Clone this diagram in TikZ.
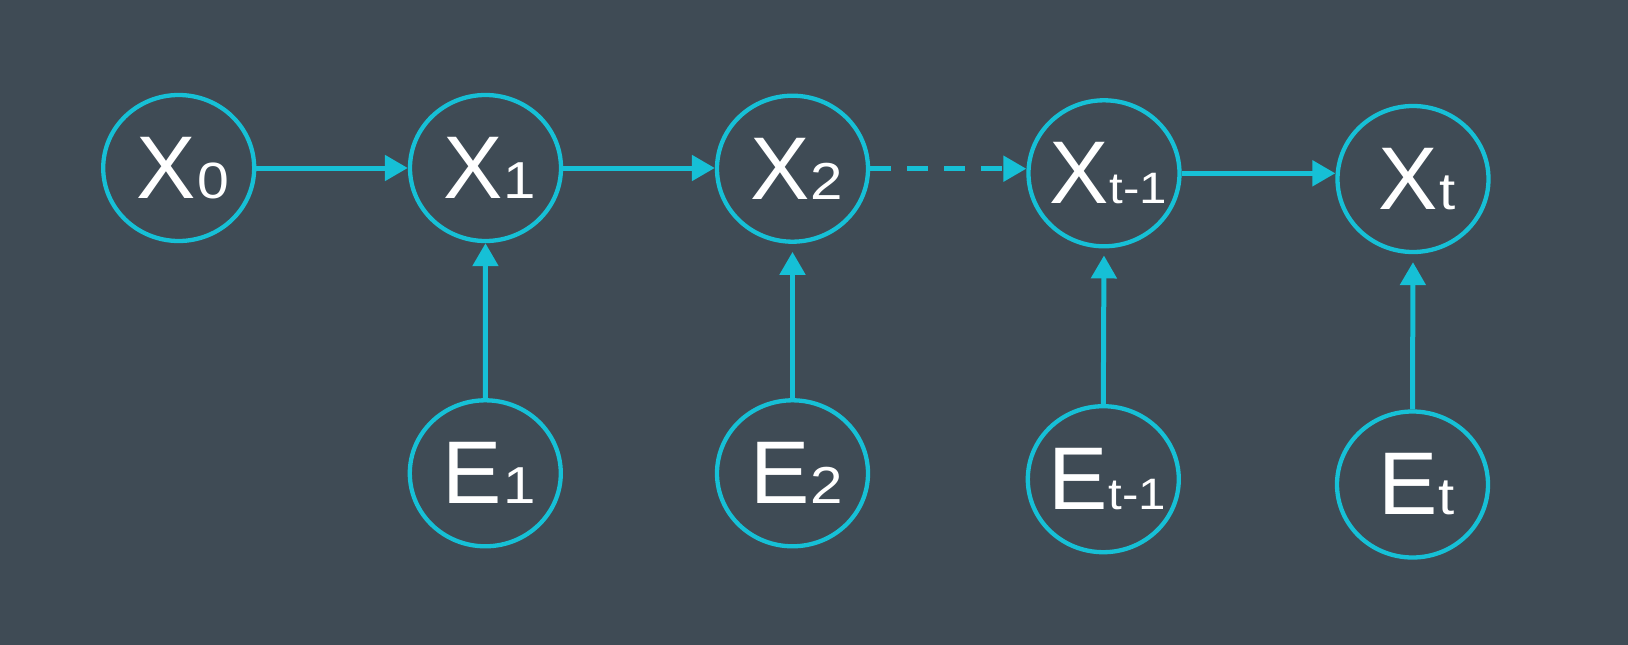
\documentclass[tikz,border=0pt]{standalone}
\usepackage{fontspec}
\setmainfont{Liberation Sans}
\usetikzlibrary{shapes.geometric,arrows.meta}
\definecolor{bgc}{RGB}{63,75,85}
\definecolor{cy}{RGB}{22,192,214}
\newcommand{\mylbl}[3]{\makebox[0pt]{\kern8pt{\fontsize{89}{89}\selectfont #1}\kern1pt\scalebox{1.12}[1]{\fontsize{#3}{#3}\selectfont #2}}}
\tikzset{
  var/.style={ellipse,draw=cy,line width=4.3pt,minimum width=151pt,minimum height=146pt,inner sep=0pt,text=white},
  conn/.style={draw=cy,line width=5pt,-{Triangle[length=23pt,width=25pt]}},
  dconn/.style={conn,dash pattern=on 21pt off 16pt}
}
\begin{document}
\begin{tikzpicture}[x=1pt,y=-1pt]
\fill[bgc] (0,0) rectangle (1628,645);
\useasboundingbox (0,0) rectangle (1628,645);
\node[var] (X0) at (178.7,168) {\mylbl{X}{0}{51}};
\node[var] (X1) at (485.5,168) {\mylbl{X}{1}{52}};
\node[var] (X2) at (792.5,168.7) {\mylbl{X}{2}{52}};
\node[var] (Xtm1) at (1104,173.3) {\mylbl{X}{t-1}{44}};
\node[var] (Xt) at (1413,179) {\mylbl{X}{t}{52}};
\node[var] (E1) at (485.3,473.3) {\mylbl{E}{1}{52}};
\node[var] (E2) at (792.5,473.3) {\mylbl{E}{2}{52}};
\node[var] (Etm1) at (1103.3,479.2) {\mylbl{E}{t-1}{44}};
\node[var] (Et) at (1412.5,484.5) {\mylbl{E}{t}{52}};
\draw[conn] (X0.east) -- (X0.east -| X1.west);
\draw[conn] (X1.east) -- (X1.east -| X2.west);
\draw[dconn] (X2.east) -- (X2.east -| Xtm1.west);
\draw[conn] (Xtm1.east) -- (Xtm1.east -| Xt.west);
\draw[conn] (E1.north) -- (X1.south);
\draw[conn,shorten >=8pt] (E2.north) -- (X2.south);
\draw[conn,shorten >=7pt] (Etm1.north) -- (Xtm1.south);
\draw[conn,shorten >=8pt] (Et.north) -- (Xt.south);
\end{tikzpicture}
\end{document}
